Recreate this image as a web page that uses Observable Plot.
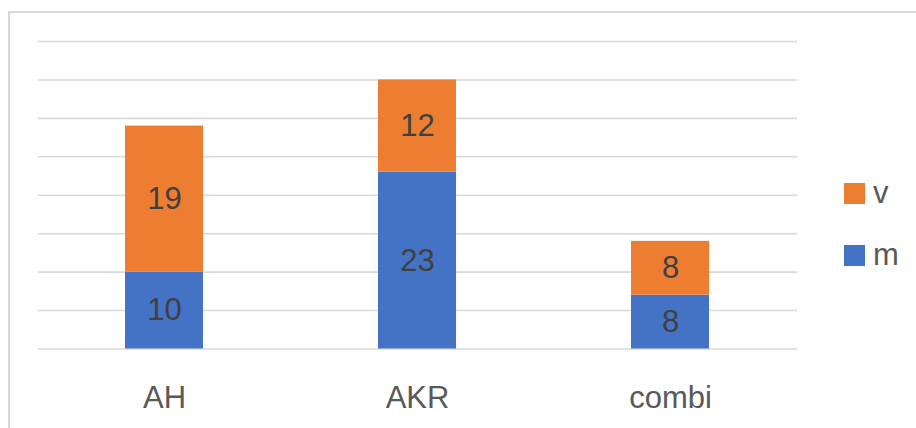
<!DOCTYPE html>
<html>
<head>
<meta charset="utf-8">
<script src="https://cdn.jsdelivr.net/npm/d3@7"></script>
<script src="https://cdn.jsdelivr.net/npm/@observablehq/plot@0.6"></script>
<style>
  body { margin: 0; background: #fff; font-family: "Liberation Sans", Arial, sans-serif; }
  #wrap { position: relative; width: 916px; height: 428px; overflow: hidden; }
  #frame { position: absolute; left: 8px; top: 11px; width: 1000px; height: 1000px;
           border-left: 2px solid #d9d9d9; border-top: 2px solid #d9d9d9; }
  #legend { position: absolute; left: 844px; top: 0; font-size: 31px; color: #595959; }
  .item { position: absolute; left: 0; display: flex; align-items: center; white-space: nowrap; }
  .sw { width: 21px; height: 21px; margin-right: 8px; }
</style>
</head>
<body>
<div id="wrap">
  <div id="frame"></div>
  <div id="chart"></div>
  <div id="legend"></div>
</div>
<script>
const categories = ["AH", "AKR", "combi"];
const seriesNames = ["m", "v"];
const mValues = [10, 23, 7];
const vValues = [19, 12, 7];
const mLabels = ["10", "23", "8"];
const vLabels = ["19", "12", "8"];
const yTicks = [0, 5, 10, 15, 20, 25, 30, 35, 40];
const colors = ["#4472C4", "#ED7D31"];

const data = [];
categories.forEach((c, i) => {
  data.push({cat: c, series: "m", value: mValues[i], label: mLabels[i]});
  data.push({cat: c, series: "v", value: vValues[i], label: vLabels[i]});
});

const chart = Plot.plot({
  width: 916,
  height: 428,
  marginLeft: 38,
  marginRight: 119,
  marginTop: 41,
  marginBottom: 79.5,
  style: {fontFamily: "Liberation Sans, Arial, sans-serif", background: "transparent"},
  x: {domain: categories, paddingInner: 0.69, paddingOuter: 0.345, label: null},
  y: {domain: [0, 40], axis: null},
  color: {domain: seriesNames, range: colors},
  marks: [
    Plot.ruleY(yTicks, {stroke: "#d9d9d9", strokeWidth: 1.6}),
    Plot.barY(data, {x: "cat", y: "value", fill: "series", order: seriesNames}),
    Plot.text(data, Plot.stackY({x: "cat", y: "value", z: "series", order: seriesNames, text: "label",
      fill: "#404040", fontSize: 31})),
    Plot.axisX({tickSize: 0, tickPadding: 37, fontSize: 31, fill: "#595959", label: null})
  ]
});
document.getElementById("chart").appendChild(chart);

const legend = document.getElementById("legend");
const legendItems = [{name: "v", color: colors[1], top: 175}, {name: "m", color: colors[0], top: 237}];
legendItems.forEach(it => {
  const d = document.createElement("div");
  d.className = "item";
  d.style.top = it.top + "px";
  d.innerHTML = `<div class="sw" style="background:${it.color}"></div><span>${it.name}</span>`;
  legend.appendChild(d);
});
</script>
</body>
</html>
